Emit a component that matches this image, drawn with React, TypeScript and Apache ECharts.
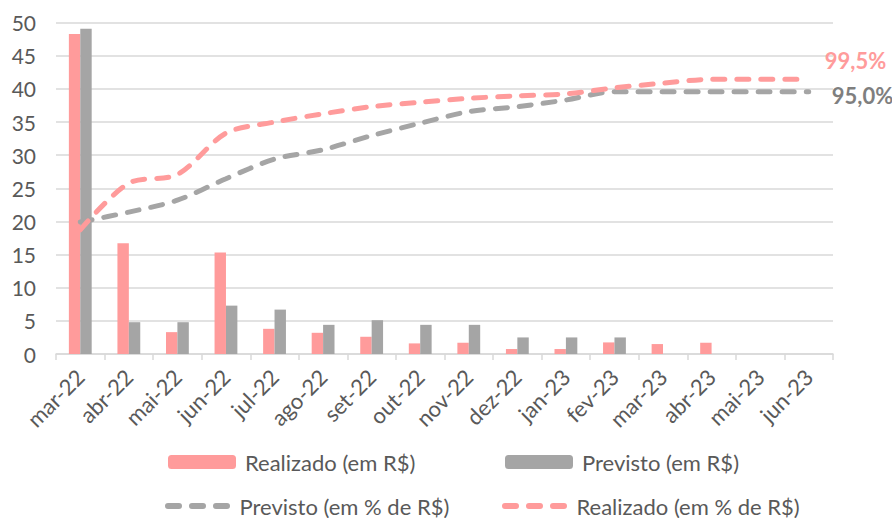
import React, { useEffect, useRef } from "react";
import * as echarts from "echarts";

const categories = ["mar-22","abr-22","mai-22","jun-22","jul-22","ago-22","set-22","out-22","nov-22","dez-22","jan-23","fev-23","mar-23","abr-23","mai-23","jun-23"];
const realizadoRS = [48.3, 16.7, 3.3, 15.3, 3.8, 3.2, 2.6, 1.6, 1.7, 0.75, 0.75, 1.75, 1.5, 1.7, null, null];
const previstoRS = [49.1, 4.8, 4.8, 7.3, 6.7, 4.4, 5.1, 4.4, 4.4, 2.5, 2.5, 2.5, null, null, null, null];
const previstoPct = [47.8, 51.4, 55.7, 63.5, 70.6, 74.0, 79.1, 83.6, 87.8, 89.6, 92.0, 95.0, 95.0, 95.0, 95.0, 95.0];
const realizadoPct = [45.0, 61.9, 65.0, 80.0, 84.0, 87.0, 89.6, 91.2, 92.6, 93.5, 94.2, 96.4, 98.1, 99.5, 99.5, 99.5];
const yTicks = { min: 0, max: 50, interval: 5 };

const PINK = "#FF9B9B";
const GRAY = "#A5A5A5";
const TEXT = "#595959";
const FONT = "Lato";

const DASH_ICON =
  "path://M3,0h11a3,3 0 0 1 0,6h-11a3,3 0 0 1 0,-6z" +
  "M27,0h11a3,3 0 0 1 0,6h-11a3,3 0 0 1 0,-6z" +
  "M51,0h11a3,3 0 0 1 0,6h-11a3,3 0 0 1 0,-6z";

function fmtPct(v: number) {
  return v.toFixed(1).replace(".", ",") + "%";
}

export default function App() {
  const ref = useRef<HTMLDivElement>(null);
  useEffect(() => {
    if (!ref.current) return;
    const chart = echarts.init(ref.current, undefined, { renderer: "svg" });
    const legendBase = {
      itemWidth: 68,
      itemHeight: 14,
      itemGap: 0,
      padding: 0,
      textStyle: { color: TEXT, fontFamily: FONT, fontSize: 22, padding: [0, 0, 0, 4] },
      selectedMode: false,
    };
    chart.setOption({
      animation: false,
      textStyle: { fontFamily: FONT },
      grid: { left: 56, right: 59, top: 22.7, bottom: 164 },
      legend: [
        { ...legendBase, data: ["Realizado (em R$)"], left: 168, top: 451 },
        { ...legendBase, data: ["Previsto (em R$)"], left: 505, top: 451 },
        {
          ...legendBase,
          itemWidth: 66,
          itemHeight: 6,
          data: [{ name: "Previsto (em % de R$)", icon: DASH_ICON }],
          left: 165,
          top: 495,
        },
        {
          ...legendBase,
          itemWidth: 66,
          itemHeight: 6,
          data: [{ name: "Realizado (em % de R$)", icon: DASH_ICON }],
          left: 502,
          top: 495,
        },
      ],
      xAxis: {
        type: "category",
        data: categories,
        axisLine: { lineStyle: { color: "#D9D9D9", width: 1.5 } },
        axisTick: { show: true, length: 6, lineStyle: { color: "#D9D9D9", width: 1.5 } },
        axisLabel: { rotate: 45, color: TEXT, fontSize: 22, fontFamily: FONT, interval: 0, margin: 19 },
      },
      yAxis: [
        {
          type: "value",
          min: yTicks.min,
          max: yTicks.max,
          interval: yTicks.interval,
          axisLabel: { color: TEXT, fontSize: 21, fontFamily: FONT, margin: 20 },
          splitLine: { lineStyle: { color: "#D9D9D9", width: 1.5 } },
          axisLine: { show: false },
          axisTick: { show: false },
        },
        { type: "value", min: 0, max: 120, show: false, splitLine: { show: false } },
      ],
      series: [
        {
          name: "Realizado (em R$)",
          type: "bar",
          data: realizadoRS,
          itemStyle: { color: PINK },
          barGap: "0%",
          barCategoryGap: "53%",
        },
        {
          name: "Previsto (em R$)",
          type: "bar",
          data: previstoRS,
          itemStyle: { color: GRAY },
          barGap: "0%",
          barCategoryGap: "53%",
        },
        {
          name: "Previsto (em % de R$)",
          type: "line",
          yAxisIndex: 1,
          data: previstoPct,
          smooth: 0.3,
          symbol: "none",
          itemStyle: { color: GRAY },
          lineStyle: { color: GRAY, width: 5, type: [12, 12], cap: "round" },
          endLabel: {
            show: true,
            formatter: (p: any) => fmtPct(p.value),
            color: "#7F7F7F",
            fontFamily: FONT,
            fontWeight: "bold",
            fontSize: 22,
            distance: 0,
            offset: [23, 4],
          },
        },
        {
          name: "Realizado (em % de R$)",
          type: "line",
          yAxisIndex: 1,
          data: realizadoPct,
          smooth: 0.3,
          symbol: "none",
          itemStyle: { color: PINK },
          lineStyle: { color: PINK, width: 5, type: [12, 12], cap: "round" },
          endLabel: {
            show: true,
            formatter: (p: any) => fmtPct(p.value),
            color: PINK,
            fontFamily: FONT,
            fontWeight: "bold",
            fontSize: 22,
            distance: 0,
            offset: [16, -19],
          },
        },
      ],
    });
    return () => chart.dispose();
  }, []);
  return <div ref={ref} style={{ width: 892, height: 518, position: "absolute", left: 0, top: 0 }} />;
}
